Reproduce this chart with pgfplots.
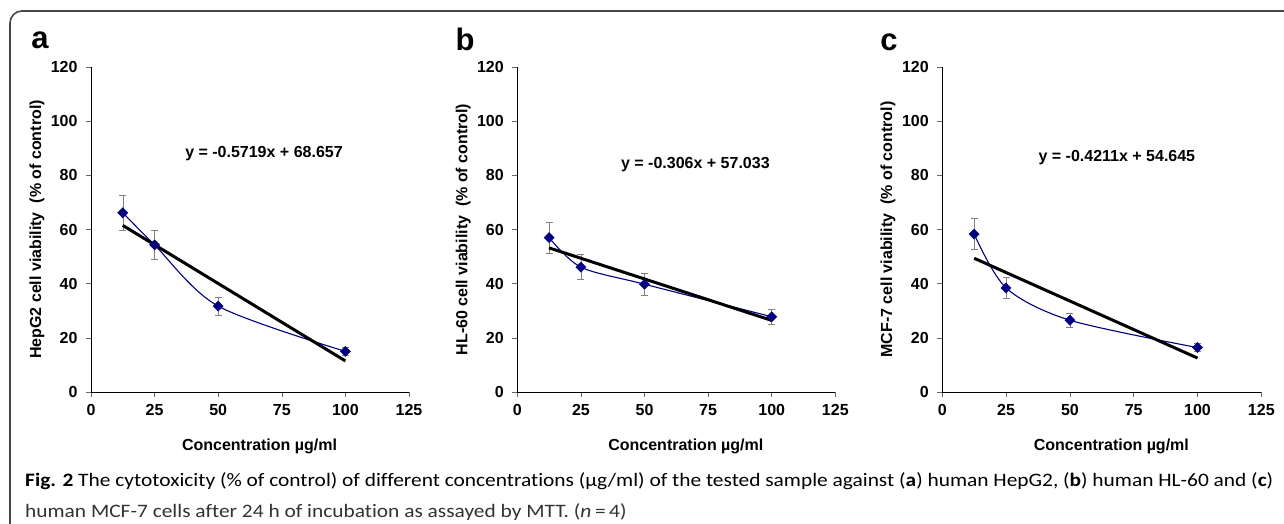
\documentclass[border=0pt]{standalone}
\usepackage{graphicx}
\usepackage{pgfplots}
\pgfplotsset{compat=1.18}
\usepackage{pgfplotstable}
\usepackage{fontspec}
\setmainfont{Liberation Sans}
\newfontfamily\capfont[Ligatures={NoCommon,TeX}]{Carlito}
\definecolor{navy}{RGB}{0,0,128}
\definecolor{framegray}{RGB}{70,70,70}
\definecolor{capgray}{RGB}{50,50,50}
\newsavebox\capA
\newlength\capw

\pgfplotstableread{
x y e
12.5 66.2 6.6
25 54.3 5.4
50 31.7 3.3
100 15.0 1.5
}\dataA
\pgfplotstableread{
x y e
12.5 57.0 5.7
25 46.1 4.6
50 39.8 4.0
100 27.8 2.7
}\dataB
\pgfplotstableread{
x y e
12.5 58.3 5.7
25 38.4 3.9
50 26.5 2.7
100 16.4 1.5
}\dataC

\pgfplotsset{
  panel/.style={
    anchor=south west, scale only axis, width=318pt, height=325pt,
    xmin=0, xmax=125, ymin=0, ymax=120,
    xtick={0,25,...,125}, ytick={0,20,...,120},
    axis lines=left, axis line style={-, line width=0.8pt},
    tick align=outside, major tick length=5pt,
    tick style={line width=0.6pt, gray!80!black},
    /pgf/number format/assume math mode=true,
    ticklabel style={font=\fontsize{16}{18}\selectfont\bfseries},
    yticklabel style={xshift=-5pt},
    xticklabel style={yshift=-4pt},
    clip=false,
    every axis y label/.style={at={(axis description cs:-0.170,0.5)}, rotate=90, anchor=center, font=\fontsize{16}{18}\selectfont\bfseries},
    every axis x label/.style={at={(axis description cs:0.53,-0.168)}, anchor=center, font=\fontsize{16}{18}\selectfont\bfseries},
    xlabel={Concentration µg/ml},
  },
  curve/.style={navy, line width=1.1pt, smooth, no marks},
  pts/.style={only marks, mark=square*, mark size=3.6pt, mark options={rotate=45, draw=navy, fill=navy},
    error bars/.cd, y dir=both, y explicit,
    error bar style={gray, line width=0.6pt},
    error mark options={gray, line width=0.6pt, mark size=3.5pt, rotate=90}},
  trend/.style={black, line width=3pt, no marks},
}
\tikzset{eq/.style={font=\fontsize{16}{18}\selectfont\bfseries, anchor=center}}

\begin{document}%
\sbox\capA{\capfont\fontsize{19}{22}\selectfont\textbf{Fig. 2} The cytotoxicity (\% of control) of different concentrations (µg/ml) of the tested sample against (\textbf{a}) human HepG2, (\textbf{b}) human HL-60 and (\textbf{c})}%
\setlength\capw{\wd\capA}%
\pgfmathsetmacro\cs{1248/\capw}%
\begin{tikzpicture}[x=1pt,y=1pt]
\useasboundingbox (0,0) rectangle (1284,523);
\draw[framegray, line width=1.6pt, rounded corners=12pt] (10,-2) -- (10,512) -- (1290,512);

\node[font=\fontsize{31}{34}\selectfont\bfseries, anchor=center] at (40,483) {a};
\node[font=\fontsize{31}{34}\selectfont\bfseries, anchor=center] at (465,484) {b};
\node[font=\fontsize{31}{34}\selectfont\bfseries, anchor=center] at (889,481) {c};

% Panel a
\begin{axis}[panel, at={(91pt,131pt)}, ylabel={HepG2 cell viability~~(\% of control)}]
\addplot[curve] table[x=x,y=y] {\dataA};
\addplot[pts] table[x=x,y=y,y error=e] {\dataA};
\addplot[trend] coordinates {(12.5,61.508) (100,11.467)};
\node[eq] at (axis cs:68,88) {y = -0.5719x + 68.657};
\end{axis}

% Panel b
\begin{axis}[panel, at={(517.3pt,131pt)}, ylabel={HL-60 cell viability~~(\% of control)}]
\addplot[curve] table[x=x,y=y] {\dataB};
\addplot[pts] table[x=x,y=y,y error=e] {\dataB};
\addplot[trend] coordinates {(12.5,53.208) (100,26.433)};
\node[eq] at (axis cs:70,84) {y = -0.306x + 57.033};
\end{axis}

% Panel c
\begin{axis}[panel, at={(942.3pt,131pt)}, width=319pt, ylabel={MCF-7 cell viability~~(\% of control)}]
\addplot[curve] table[x=x,y=y] {\dataC};
\addplot[pts] table[x=x,y=y,y error=e] {\dataC};
\addplot[trend] coordinates {(12.5,49.381) (100,12.535)};
\node[eq] at (axis cs:68.4,86.7) {y = -0.4211x + 54.645};
\end{axis}

\node[anchor=base west, inner sep=0pt, text=capgray] at (25,37) {\scalebox{\cs}[1]{\usebox\capA}};
\node[anchor=base west, inner sep=0pt, text=capgray] at (25,6) {\scalebox{\cs}[1]{\capfont\fontsize{19}{22}\selectfont human MCF-7 cells after 24 h of incubation as assayed by MTT. (\textit{n}\,=\,4)}};
\end{tikzpicture}%
\end{document}
